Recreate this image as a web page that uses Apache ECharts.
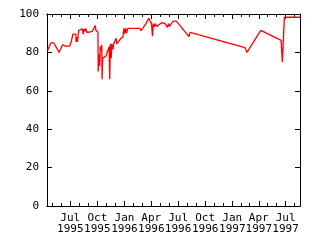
<!DOCTYPE html>
<html><head><meta charset="utf-8">
<script src="https://cdn.jsdelivr.net/npm/echarts@6/dist/echarts.min.js"></script>
<style>html,body{margin:0;padding:0;background:#fff}#c{width:320px;height:240px}</style>
</head><body><div id="c"></div>
<script>
const dates = [
'1995-04-15','1995-04-20','1995-04-26','1995-05-01','1995-05-06','1995-05-12','1995-05-17','1995-05-24','1995-05-28','1995-06-05',
'1995-06-14','1995-06-29','1995-07-05','1995-07-10','1995-07-20','1995-07-21','1995-07-23','1995-07-25','1995-07-27','1995-07-30',
'1995-08-05','1995-08-11','1995-08-14','1995-08-17','1995-08-21','1995-08-23','1995-08-26','1995-08-29','1995-09-02','1995-09-08',
'1995-09-14','1995-09-20','1995-09-24','1995-09-26','1995-10-01','1995-10-03','1995-10-04','1995-10-06','1995-10-09','1995-10-11',
'1995-10-14','1995-10-16','1995-10-17','1995-10-19','1995-10-22','1995-10-25','1995-10-30','1995-11-04','1995-11-10','1995-11-12',
'1995-11-14','1995-11-17','1995-11-19','1995-11-23','1995-11-25','1995-11-30','1995-12-04','1995-12-06','1995-12-12','1995-12-20',
'1995-12-27','1995-12-30','1996-01-02','1996-01-05','1996-01-08','1996-01-12','1996-02-23','1996-02-26','1996-03-03','1996-03-14',
'1996-03-24','1996-03-27','1996-03-30','1996-04-02','1996-04-04','1996-04-05','1996-04-08','1996-04-12','1996-04-15','1996-04-20',
'1996-04-28','1996-05-08','1996-05-14','1996-05-18','1996-05-22','1996-05-26','1996-05-29','1996-06-02','1996-06-08','1996-06-15',
'1996-06-25','1996-07-05','1996-08-07','1996-08-11','1997-02-13','1997-02-20','1997-04-08','1997-06-16','1997-06-18','1997-06-20',
'1997-06-22','1997-06-25','1997-06-27','1997-08-19'
];
const values = [
81,82,85,86,85,84.5,82,80,80.5,84,
83.3,83.3,86,89.5,89.5,85.5,88,85.5,86,91.5,
92,92.2,89.5,92.2,91,92.5,90.5,91.5,90.5,91.5,
91,92,94,91.5,91,90.5,70,79,73,83,
81,84,66,77,78,77.3,78,78.3,83,66,
84.5,77,84.3,81.5,84.3,84.5,87.3,84.5,85.5,87.3,
88,92.5,89.8,92.5,90,92.5,92.5,91.3,92.5,95,
97.7,97,98.5,95,94,88.5,95,93.3,95,93.5,
94.5,95.5,96.3,95,96,93,95,93.5,95,96.3,
96.3,94.5,88.2,90.4,82.5,80,91.5,86.3,80.4,75,
80.5,92,98.3,98.3
];
const xMin = '1995-04-13';
const xMax = '1997-08-19';
const monthTicks = [
'1995-05-01','1995-06-01','1995-07-01','1995-08-01','1995-09-01','1995-10-01','1995-11-01','1995-12-01',
'1996-01-01','1996-02-01','1996-03-01','1996-04-01','1996-05-01','1996-06-01','1996-07-01','1996-08-01',
'1996-09-01','1996-10-01','1996-11-01','1996-12-01','1997-01-01','1997-02-01','1997-03-01','1997-04-01',
'1997-05-01','1997-06-01','1997-07-01','1997-08-01'
];
const quarterTicks = ['1995-07-01','1995-10-01','1996-01-01','1996-04-01','1996-07-01','1996-10-01','1997-01-01','1997-04-01','1997-07-01'];
const quarterLabels = ['Jul\n1995','Oct\n1995','Jan\n1996','Apr\n1996','Jul\n1996','Oct\n1996','Jan\n1997','Apr\n1997','Jul\n1997'];
const yMin = 0, yMax = 100, yStep = 20;

function ts(s){const p=s.split('-').map(Number);return Date.UTC(p[0],p[1]-1,p[2]);}
const mT = monthTicks.map(ts), qT = quarterTicks.map(ts);
const FONT = '"DejaVu Sans Mono", monospace';
const black = '#000';
function xa(pos, ticks, len, labels){
  return {
    type:'value', position:pos, min:ts(xMin), max:ts(xMax), scale:true,
    axisLine:{show:true, onZero:false, lineStyle:{color:black,width:1}},
    axisTick:{show:true, inside:true, length:len, customValues:ticks, lineStyle:{color:black,width:1}},
    axisLabel: labels ? {show:true, customValues:qT, color:black, fontFamily:FONT, fontSize:11, lineHeight:11, margin:7, hideOverlap:false,
      formatter:function(v){const i=qT.indexOf(v);return i>=0?quarterLabels[i]:'';}} : {show:false},
    splitLine:{show:false}, minorTick:{show:false}
  };
}
function ya(pos, labels){
  return {
    type:'value', position:pos, min:yMin, max:yMax, interval:yStep,
    axisLine:{show:true, onZero:false, lineStyle:{color:black,width:1}},
    axisTick:{show:true, inside:true, length:5, lineStyle:{color:black,width:1}},
    axisLabel: labels ? {show:true, color:black, fontFamily:FONT, fontSize:11, margin:8} : {show:false},
    splitLine:{show:false}
  };
}
const chart = echarts.init(document.getElementById('c'), null, {renderer:'canvas'});
chart.setOption({
  animation:false,
  backgroundColor:'#fff',
  grid:{left:47, right:20, top:14, bottom:34, containLabel:false},
  xAxis:[xa('bottom', mT, 3, false), xa('bottom', qT, 5, true), xa('top', mT, 3, false), xa('top', qT, 5, false)],
  yAxis:[ya('left', true), ya('right', false)],
  series:[{
    type:'line', xAxisIndex:0, yAxisIndex:0, showSymbol:false, symbol:'none',
    lineStyle:{color:'#ff0000', width:1.3},
    data: dates.map((d,i)=>[ts(d), values[i]])
  }]
});
</script>
</body></html>
